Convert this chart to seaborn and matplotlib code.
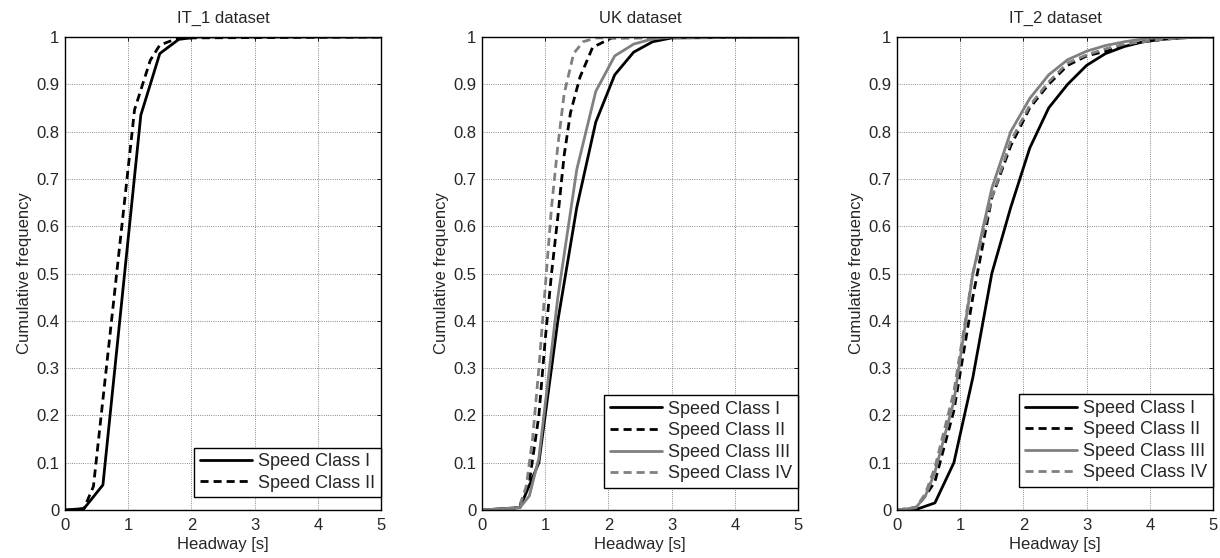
import matplotlib
matplotlib.use("Agg")
import matplotlib.pyplot as plt
import seaborn as sns

# ---------------- data ----------------
titles = ["IT_1 dataset", "UK dataset", "IT_2 dataset"]
class_labels = ["Speed Class I", "Speed Class II", "Speed Class III", "Speed Class IV"]
x_ticks = [0, 1, 2, 3, 4, 5]
x_tick_labels = ["0", "1", "2", "3", "4", "5"]
y_ticks = [0, 0.1, 0.2, 0.3, 0.4, 0.5, 0.6, 0.7, 0.8, 0.9, 1.0]
y_tick_labels = ["0", "0.1", "0.2", "0.3", "0.4", "0.5", "0.6", "0.7", "0.8", "0.9", "1"]

# IT_1 dataset
it1_I_x = [0, 0.3, 0.6, 1.2, 1.5, 1.8, 2.1, 5]
it1_I_y = [0, 0.003, 0.053, 0.835, 0.965, 0.995, 1.0, 1.0]
it1_II_x = [0, 0.15, 0.3, 0.45, 1.1, 1.35, 1.5, 1.8, 5]
it1_II_y = [0, 0.0, 0.003, 0.05, 0.846, 0.951, 0.983, 0.998, 1.0]

# UK dataset
uk_I_x = [0, 0.6, 0.9, 1.2, 1.5, 1.8, 2.1, 2.4, 2.7, 3.0, 5]
uk_I_y = [0, 0.005, 0.1, 0.4, 0.64, 0.82, 0.92, 0.968, 0.99, 0.998, 1.0]
uk_II_x = [0, 0.5, 0.6, 0.75, 0.9, 1.0, 1.1, 1.2, 1.3, 1.4, 1.55, 1.75, 2.05, 5]
uk_II_y = [0, 0.003, 0.01, 0.06, 0.2, 0.36, 0.5, 0.62, 0.75, 0.84, 0.915, 0.978, 0.998, 1.0]
uk_III_x = [0, 0.6, 0.75, 0.9, 1.2, 1.5, 1.8, 2.1, 2.4, 2.7, 3.0, 5]
uk_III_y = [0, 0.005, 0.03, 0.11, 0.45, 0.72, 0.885, 0.96, 0.985, 0.996, 1.0, 1.0]
uk_IV_x = [0, 0.5, 0.6, 0.7, 0.8, 0.9, 1.0, 1.1, 1.2, 1.3, 1.45, 1.6, 1.8, 5]
uk_IV_y = [0, 0.003, 0.01, 0.05, 0.15, 0.3, 0.47, 0.64, 0.77, 0.88, 0.965, 0.99, 0.998, 1.0]

# IT_2 dataset
it2_I_x = [0, 0.3, 0.6, 0.9, 1.2, 1.5, 1.8, 2.1, 2.4, 2.7, 3.0, 3.3, 3.6, 3.9, 4.2, 4.5, 4.8, 5]
it2_I_y = [0, 0.001, 0.015, 0.1, 0.28, 0.5, 0.64, 0.765, 0.85, 0.9, 0.94, 0.965, 0.98, 0.99, 0.995, 0.998, 1.0, 1.0]
it2_II_x = [0, 0.3, 0.45, 0.6, 0.9, 1.2, 1.5, 1.8, 2.1, 2.4, 2.7, 3.0, 3.3, 3.6, 3.9, 4.2, 4.6, 5]
it2_II_y = [0, 0.005, 0.03, 0.06, 0.21, 0.45, 0.66, 0.77, 0.85, 0.9, 0.94, 0.96, 0.97, 0.982, 0.99, 0.995, 1.0, 1.0]
it2_III_x = [0, 0.3, 0.45, 0.6, 0.9, 1.2, 1.5, 1.8, 2.1, 2.4, 2.7, 3.0, 3.3, 3.6, 4.0, 5]
it2_III_y = [0, 0.005, 0.03, 0.08, 0.23, 0.5, 0.68, 0.8, 0.87, 0.92, 0.952, 0.97, 0.982, 0.99, 0.998, 1.0]
it2_IV_x = [0, 0.3, 0.45, 0.6, 0.9, 1.2, 1.5, 1.8, 2.1, 2.4, 2.7, 3.0, 3.3, 3.6, 3.9, 4.2, 4.5, 4.8, 5]
it2_IV_y = [0, 0.005, 0.035, 0.09, 0.25, 0.5, 0.66, 0.78, 0.855, 0.905, 0.945, 0.962, 0.975, 0.985, 0.99, 0.995, 0.998, 1.0, 1.0]

panels = [
    [(it1_I_x, it1_I_y), (it1_II_x, it1_II_y)],
    [(uk_I_x, uk_I_y), (uk_II_x, uk_II_y), (uk_III_x, uk_III_y), (uk_IV_x, uk_IV_y)],
    [(it2_I_x, it2_I_y), (it2_II_x, it2_II_y), (it2_III_x, it2_III_y), (it2_IV_x, it2_IV_y)],
]

# ---------------- style ----------------
sns.set_style("white")
plt.rcParams["font.family"] = ["Liberation Sans", "DejaVu Sans"]
plt.rcParams["font.size"] = 12

DASH = (0, (2.9, 1.8))
styles = [
    dict(color="black", linestyle="-"),
    dict(color="black", linestyle=DASH),
    dict(color="#808080", linestyle="-"),
    dict(color="#808080", linestyle=DASH),
]

fig = plt.figure(figsize=(12.2, 5.58), dpi=100)
lefts = [65 / 1220, 482 / 1220, 897 / 1220]
width = 316 / 1220
bottom = 1 - 510 / 558
height = (510 - 37) / 558
legend_y = [0.027, 0.047, 0.049]

for i, series in enumerate(panels):
    ax = fig.add_axes([lefts[i], bottom, width, height])
    for j, (xs, ys) in enumerate(series):
        sns.lineplot(x=xs, y=ys, ax=ax, sort=False, errorbar=None,
                     lw=2.0, label=class_labels[j], **styles[j])
    ax.set_xlim(0, 5)
    ax.set_ylim(0, 1)
    ax.set_xticks(x_ticks)
    ax.set_xticklabels(x_tick_labels)
    ax.set_yticks(y_ticks)
    ax.set_yticklabels(y_tick_labels)
    ax.grid(True, linestyle=":", color="0.4", lw=0.6)
    ax.tick_params(direction="in", length=3, width=0.6, top=True, right=True,
                   labelsize=12, color="black")
    ax.tick_params(axis="x", pad=6)
    ax.tick_params(axis="y", pad=4)
    for sp in ax.spines.values():
        sp.set_visible(True)
        sp.set_color("black")
        sp.set_linewidth(1.0)
    ax.set_title(titles[i], fontsize=12, pad=10)
    ax.set_xlabel("Headway [s]", fontsize=12, labelpad=3)
    ax.set_ylabel("Cumulative frequency", fontsize=12, labelpad=3)
    leg = ax.legend(loc="lower right", bbox_to_anchor=(1.0, legend_y[i]), borderaxespad=0,
                    fancybox=False, framealpha=1, edgecolor="black", fontsize=13,
                    handlelength=2.9, handletextpad=0.35, borderpad=0.3,
                    labelspacing=0.25)
    leg.get_frame().set_linewidth(1.0)

fig.savefig("out.png", dpi=100)
